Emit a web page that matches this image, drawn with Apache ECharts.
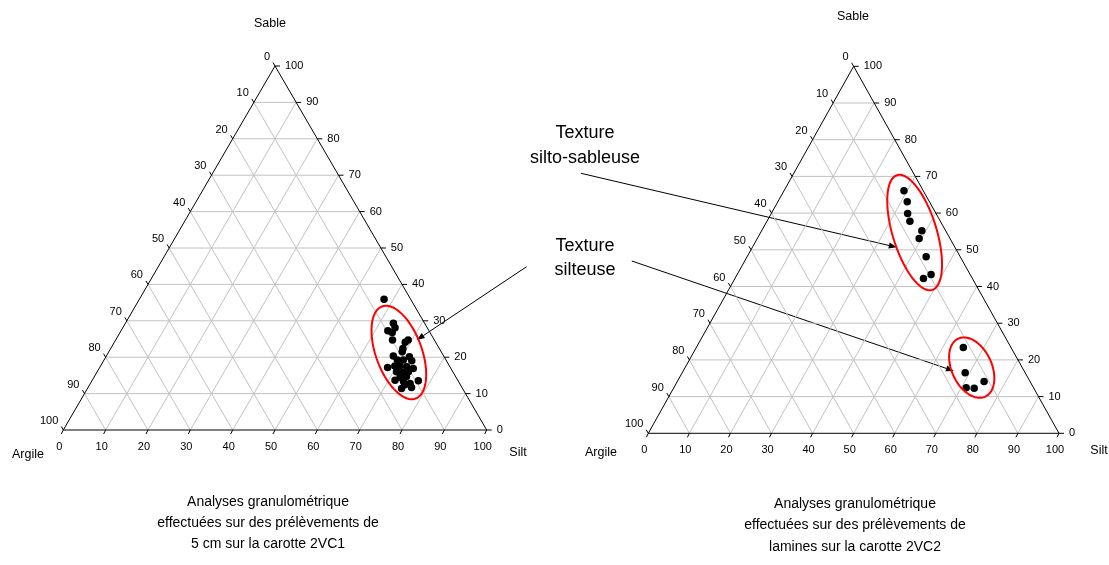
<!DOCTYPE html>
<html><head><meta charset="utf-8">
<script src="https://cdn.jsdelivr.net/npm/echarts@6/dist/echarts.min.js"></script>
<style>html,body{margin:0;padding:0;background:#fff}#c{width:1109px;height:565px}</style>
</head><body><div id="c"></div><script>
// ---- data (percentages) ----
const ticks = [0,10,20,30,40,50,60,70,80,90,100];
// left diagram (2VC1) : Sable %, Silt %
const leftSable = [35.9,29.3,28.1,27.3,26.8,24.7,24.7,24.1,22.4,21.5,20.3,20.1,19.2,19.2,19.0,17.2,17.6,17.6,17.4,16.9,16.0,15.8,16.0,14.5,14.7,13.7,13.5,13.3,12.8,11.4,11.7,12.4];
const leftSilt  = [57.8,63.3,64.3,63.0,64.3,65.4,69.1,68.7,69.0,69.3,67.8,71.7,69.3,70.7,72.8,68.0,69.5,70.7,72.4,74.2,70.7,72.2,73.5,72.3,73.7,71.5,77.1,73.7,75.5,74.2,76.4,74.5];
// right diagram (2VC2)
const rightSable = [66.1,63.1,59.9,57.8,55.2,53.1,48.1,43.3,42.2,23.4,16.5,12.4,12.3,14.1];
const rightSilt  = [29.2,31.5,33.2,34.8,39.0,39.4,43.6,47.2,45.9,65.0,68.9,71.2,73.2,74.7];
// texture groups (ellipse centres) : Sable %, Silt %
const leftGroupSable = [21.3];
const leftGroupSilt  = [68.6];
const rightGroupSable = [54.7, 17.9];
const rightGroupSilt  = [37.5, 69.8];

// ---- styling / layout ----
const FONT = '"Liberation Sans", Arial, Helvetica, sans-serif';
const ellLeftShape = [{a:49, b:23, rot:20}];
const ellRightShape = [{a:60, b:22, rot:17},{a:32, b:20, rot:25}];

const toCart = (sable, silt) => [silt + sable/2, sable];

function txt(x, y, text, size, align, vAlign){
  return {type:'text', x:x, y:y, silent:true,
    style:{text:String(text), fill:'#000', font: size + 'px ' + FONT,
      align:align, textAlign:align, verticalAlign:vAlign, textVerticalAlign:vAlign}};
}
function seg(p, q, style){
  return {type:'line', silent:true, shape:{x1:p[0],y1:p[1],x2:q[0],y2:q[1]}, style:style};
}

function frameRenderer(params, api){
  const P = (silt, sable) => api.coord([silt + sable/2, sable]);
  const ch = [];
  const grey = {stroke:'#c2c2c2', lineWidth:1};
  ticks.forEach(t => {
    if (t === 0 || t === 100) return;
    ch.push(seg(P(0,t), P(100-t,t), grey));      // constant Sable
    ch.push(seg(P(t,0), P(t,100-t), grey));      // constant Silt
    ch.push(seg(P(100-t,0), P(0,100-t), grey));  // constant Argile
  });
  const A = P(0,0), B = P(100,0), C = P(0,100);
  ch.push({type:'polygon', silent:true, shape:{points:[A,B,C]}, style:{fill:null, stroke:'#000', lineWidth:1}});
  const blk = {stroke:'#000', lineWidth:1};
  ticks.forEach(t => {
    // bottom axis : Silt
    let p = P(t,0);
    ch.push(seg(p, [p[0]-2, p[1]+4], blk));
    ch.push(txt(p[0]-4, p[1]+17, t, 11, 'center', 'middle'));
    // right axis : Sable
    p = P(100-t, t);
    ch.push(seg(p, [p[0]+5, p[1]], blk));
    ch.push(txt(p[0]+10, p[1], t, 11, 'left', 'middle'));
    // left axis : Argile
    p = P(0, 100-t);
    ch.push(seg(p, [p[0]-2, p[1]-3.5], blk));
    ch.push(txt(p[0]-5, p[1]-9, t, 11, 'right', 'middle'));
  });
  return {type:'group', children:ch};
}

function ellipseRenderer(shapes){
  return function(params, api){
    const c = api.coord([api.value(0), api.value(1)]);
    const s = shapes[params.dataIndex];
    const th = s.rot * Math.PI/180;
    const ux = Math.sin(th), uy = Math.cos(th);   // major axis direction
    const vx = Math.cos(th), vy = -Math.sin(th);  // minor axis direction
    const pts = [];
    for (let k = 0; k < 90; k++){
      const t = k/90*2*Math.PI;
      const ca = s.a*Math.cos(t), sb = s.b*Math.sin(t);
      pts.push([c[0] + ca*ux + sb*vx, c[1] + ca*uy + sb*vy]);
    }
    return {type:'polygon', silent:true, shape:{points:pts}, style:{fill:null, stroke:'#ff0000', lineWidth:2}};
  };
}

function arrow(x1, y1, x2, y2){
  const dx = x2-x1, dy = y2-y1, L = Math.hypot(dx,dy);
  const ux = dx/L, uy = dy/L, len = 8, hw = 3;
  const bx = x2 - ux*len, by = y2 - uy*len;
  return [
    {type:'line', silent:true, shape:{x1:x1,y1:y1,x2:bx,y2:by}, style:{stroke:'#000', lineWidth:1}},
    {type:'polygon', silent:true, shape:{points:[[x2,y2],[bx-uy*hw,by+ux*hw],[bx+uy*hw,by-ux*hw]]}, style:{fill:'#000'}}
  ];
}

function xA(i){ return {type:'value', gridIndex:i, min:0, max:100, show:false}; }
function yA(i){ return {type:'value', gridIndex:i, min:0, max:100, show:false}; }

const graphics = [
  txt(270, 24, 'Sable', 12.5, 'center', 'middle'),
  txt(28, 455, 'Argile', 12.5, 'center', 'middle'),
  txt(518, 453, 'Silt', 12.5, 'center', 'middle'),
  txt(853, 17, 'Sable', 12.5, 'center', 'middle'),
  txt(601, 453, 'Argile', 12.5, 'center', 'middle'),
  txt(1099, 451, 'Silt', 12.5, 'center', 'middle'),
  txt(268, 502, 'Analyses granulométrique', 14, 'center', 'middle'),
  txt(268, 523, 'effectuées sur des prélèvements de', 14, 'center', 'middle'),
  txt(268, 544, '5 cm sur la carotte 2VC1', 14, 'center', 'middle'),
  txt(855, 504, 'Analyses granulométrique', 14, 'center', 'middle'),
  txt(855, 525, 'effectuées sur des prélèvements de', 14, 'center', 'middle'),
  txt(855, 547, 'lamines sur la carotte 2VC2', 14, 'center', 'middle'),
  txt(585, 133, 'Texture', 18, 'center', 'middle'),
  txt(585, 158, 'silto-sableuse', 18, 'center', 'middle'),
  txt(585, 246, 'Texture', 18, 'center', 'middle'),
  txt(585, 270, 'silteuse', 18, 'center', 'middle'),
  ...arrow(526.6, 266.7, 416.7, 340),
  ...arrow(581, 173.3, 896.8, 247.3),
  ...arrow(631.8, 261, 953.9, 371)
];

const option = {
  animation:false,
  backgroundColor:'#fff',
  grid:[
    {left:63.3, top:66, width:423.4, height:364},
    {left:648.3, top:66.3, width:410.7, height:367}
  ],
  xAxis:[xA(0), xA(1)],
  yAxis:[yA(0), yA(1)],
  series:[
    {type:'custom', xAxisIndex:0, yAxisIndex:0, data:[[0,0]], renderItem:frameRenderer, silent:true, z:1},
    {type:'custom', xAxisIndex:1, yAxisIndex:1, data:[[0,0]], renderItem:frameRenderer, silent:true, z:1},
    {type:'scatter', xAxisIndex:0, yAxisIndex:0, symbol:'circle', symbolSize:7.5, itemStyle:{color:'#000', opacity:1}, z:3,
      data: leftSable.map((s,i) => toCart(s, leftSilt[i]))},
    {type:'scatter', xAxisIndex:1, yAxisIndex:1, symbol:'circle', symbolSize:7.5, itemStyle:{color:'#000', opacity:1}, z:3,
      data: rightSable.map((s,i) => toCart(s, rightSilt[i]))},
    {type:'custom', xAxisIndex:0, yAxisIndex:0, renderItem:ellipseRenderer(ellLeftShape), silent:true, z:4,
      data: leftGroupSable.map((s,i) => toCart(s, leftGroupSilt[i]))},
    {type:'custom', xAxisIndex:1, yAxisIndex:1, renderItem:ellipseRenderer(ellRightShape), silent:true, z:4,
      data: rightGroupSable.map((s,i) => toCart(s, rightGroupSilt[i]))}
  ],
  graphic:{elements:graphics}
};
const chart = echarts.init(document.getElementById('c'), null, {renderer:'canvas'});
chart.setOption(option);
</script></body></html>
